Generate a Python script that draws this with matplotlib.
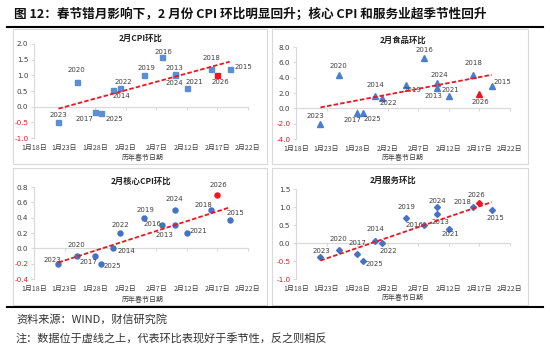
import numpy as np
import matplotlib
matplotlib.use("Agg")
import matplotlib.pyplot as plt
from matplotlib.patches import Rectangle
from matplotlib.lines import Line2D
from datetime import date, timedelta

plt.rcParams['font.family'] = ['Noto Sans CJK SC', 'DejaVu Sans']
plt.rcParams['axes.unicode_minus'] = False

# ---- data ----
years = [2013, 2014, 2015, 2016, 2017, 2018, 2019, 2020, 2021, 2022, 2023, 2024, 2025, 2026]
festival = ["02-10", "01-31", "02-19", "02-08", "01-28", "02-16", "02-05",
            "01-25", "02-12", "02-01", "01-22", "02-10", "01-29", "02-17"]
cpi = [1.05, 0.52, 1.2, 1.6, -0.17, 1.2, 1.0, 0.8, 0.6, 0.6, -0.5, 1.0, -0.2, 1.0]
food = [2.7, 1.6, 2.9, 6.6, -0.6, 4.4, 3.1, 4.3, 1.6, 1.35, -2.05, 3.3, -0.6, 1.9]
core = [0.3, 0.0, 0.37, 0.3, -0.1, 0.5, 0.4, -0.1, 0.2, 0.2, -0.2, 0.5, -0.2, 0.7]
services = [0.8, 0.06, 0.92, 0.5, -0.3, 1.0, 0.7, -0.2, 0.4, 0.0, -0.4, 1.0, -0.5, 1.1]

# label offsets in pixels (dx, dy) per year, dy positive = up
cpi_off = {2023: (0, 7), 2020: (0, 12), 2017: (-11, -7), 2025: (13, -6), 2014: (8, -6),
           2022: (4, 6), 2019: (2, 7), 2016: (1, 5), 2013: (0, 6), 2024: (0, -8),
           2021: (8, 6), 2018: (0, 11), 2026: (3, -7), 2015: (14, 2)}
food_off = {2023: (-5, 8), 2020: (0, 9), 2017: (-5, -7), 2025: (9, -6), 2014: (0, 11),
            2022: (7, -5), 2019: (6, -5), 2016: (0, 8), 2024: (3, 8), 2013: (-3, -8),
            2021: (2, 6), 2018: (0, 12), 2026: (1, -8), 2015: (11, 4)}
core_off = {2023: (-6, 4), 2020: (0, 11), 2017: (-7, -6), 2025: (11, -2), 2014: (13, -3),
            2022: (1, 8), 2019: (1, 8), 2016: (-10, 1), 2013: (-10, -10), 2024: (0, 11),
            2021: (12, 2), 2018: (-8, 5), 2026: (1, 10), 2015: (6, 7)}
serv_off = {2023: (1, 6), 2020: (0, 11), 2017: (0, 11), 2025: (11, -3), 2014: (0, 12),
            2022: (7, -8), 2019: (0, 11), 2016: (-10, 0), 2013: (4, -8), 2024: (1, 6),
            2021: (2, -5), 2018: (-11, 5), 2026: (-3, 8), 2015: (4, -8)}

START = date(2001, 1, 18)
days = np.array([(date(2001, int(s[:2]), int(s[3:])) - START).days for s in festival])
years_a = np.array(years)
tick_days = np.arange(0, 36, 5)
tick_labels = []
for d in tick_days:
    dd = START + timedelta(days=int(d))
    tick_labels.append(f"{dd.month}月{dd.day}日")

W, H = 550, 350
fig = plt.figure(figsize=(5.5, 3.5), dpi=100)
fig.patch.set_facecolor('white')

RED = '#F0141E'
GRID = '#D9D9D9'


def px_rect(x0, y0, x1, y1):
    return [x0 / W, 1 - y1 / H, (x1 - x0) / W, (y1 - y0) / H]


def draw_panel(rect, title, title_xy, xlab_xy, values, ylim, ystep, fmt,
               marker, ms, offsets, color):
    ax = fig.add_axes(rect)
    v = np.array(values)
    hist = years_a != 2026
    ax.plot(days[hist], v[hist], ls='none', marker=marker, ms=ms, color=color,
            mec=color, zorder=3)
    ax.plot(days[~hist], v[~hist], ls='none', marker=marker, ms=ms, color=RED,
            mec=RED, zorder=3)
    # trend line fitted on past years only
    coef = np.polyfit(days[hist], v[hist], 1)
    xs = np.array([days[hist].min(), days[hist].max()])
    ax.plot(xs, np.polyval(coef, xs), color=RED, lw=1.3, dashes=(2.5, 1.2), zorder=4)
    for yr, xv, yv in zip(years, days, v):
        dx, dy = offsets[yr]
        ax.annotate(str(yr), (xv, yv), xytext=(dx, dy), textcoords='offset pixels',
                    ha='center', va='center', fontsize=5, color='#404040',
                    family=['DejaVu Sans'])
    ax.set_xlim(0, 35)
    ax.set_ylim(*ylim)
    yt = np.arange(ylim[0], ylim[1] + ystep / 2, ystep)
    ax.set_yticks(yt)
    ax.set_yticklabels([fmt.format(t) for t in yt], family=['DejaVu Sans'])
    for lab, t in zip(ax.get_yticklabels(), yt):
        lab.set_color(RED if t < -1e-9 else '#404040')
    ax.set_xticks(tick_days)
    ax.set_xticklabels(tick_labels)
    for s in ['top', 'right', 'bottom']:
        ax.spines[s].set_visible(False)
    ax.spines['left'].set_color(GRID)
    ax.spines['left'].set_linewidth(0.8)
    ax.tick_params(axis='y', length=2, color=GRID, labelsize=5.2, pad=2)
    ax.tick_params(axis='x', length=0, labelsize=5, pad=4, labelcolor='#404040')
    # zero line with tick marks
    f0 = (0 - ylim[0]) / (ylim[1] - ylim[0])
    sec = ax.secondary_xaxis(f0)
    sec.set_xticks(tick_days)
    sec.set_xticklabels([])
    sec.tick_params(length=2.5, color=GRID, width=0.8)
    for s in sec.spines.values():
        s.set_color(GRID)
        s.set_linewidth(0.8)
    ax.patch.set_alpha(0)
    fig.text(title_xy[0] / W, 1 - title_xy[1] / H, title, ha='center', va='center',
             fontsize=6, fontweight='bold', color='#222222')
    fig.text(xlab_xy[0] / W, 1 - xlab_xy[1] / H, "历年春节日期", ha='center', va='center',
             fontsize=5, color='#404040')
    return ax


# panel boxes
for (x0, y0, x1, y1) in [(13, 29, 267, 164), (272, 29, 528, 164),
                         (13, 168, 267, 305), (272, 168, 528, 305)]:
    fig.patches.append(Rectangle((x0 / W, 1 - y1 / H), (x1 - x0) / W, (y1 - y0) / H,
                                 transform=fig.transFigure, fill=False,
                                 edgecolor='#D9D9D9', lw=0.8))

draw_panel(px_rect(34, 44, 248, 138), "2月CPI环比", (141, 38), (143, 158),
           cpi, (-1.0, 2.0), 0.5, "{:.1f}", 's', 3.6, cpi_off, '#5B8ED6')
draw_panel(px_rect(296, 47, 510, 139), "2月食品环比", (403, 40), (403, 158),
           food, (-4.0, 8.0), 2.0, "{:.1f}", '^', 3.8, food_off, '#4A7ED0')
draw_panel(px_rect(34, 187, 248, 279), "2月核心CPI环比", (141, 181), (143, 300),
           core, (-0.4, 0.8), 0.2, "{:.1f}", 'o', 3.6, core_off, '#4472C4')
draw_panel(px_rect(296, 189, 510, 279), "2月服务环比", (393, 180), (403, 298),
           services, (-1.0, 1.5), 0.5, "{:.1f}", 'D', 3.0, serv_off, '#4472C4')

# title and rules
fig.text(14 / W, 1 - 14 / H, "图 12：春节错月影响下，2 月份 CPI 环比明显回升；核心 CPI 和服务业超季节性回升",
         ha='left', va='center', fontsize=9.1, fontweight='bold', color='#111111')
fig.add_artist(Line2D([7 / W, 543 / W], [1 - 27 / H, 1 - 27 / H], color='black', lw=1.5))
fig.add_artist(Line2D([7 / W, 543 / W], [1 - 307 / H, 1 - 307 / H], color='black', lw=1.5))

fig.text(16 / W, 1 - 319 / H, "资料来源：WIND，财信研究院", ha='left', va='center',
         fontsize=8, color='#333333')
fig.text(16 / W, 1 - 338 / H, "注：数据位于虚线之上，代表环比表现好于季节性，反之则相反", ha='left',
         va='center', fontsize=8, color='#333333')

fig.savefig("out.png", dpi=100)
